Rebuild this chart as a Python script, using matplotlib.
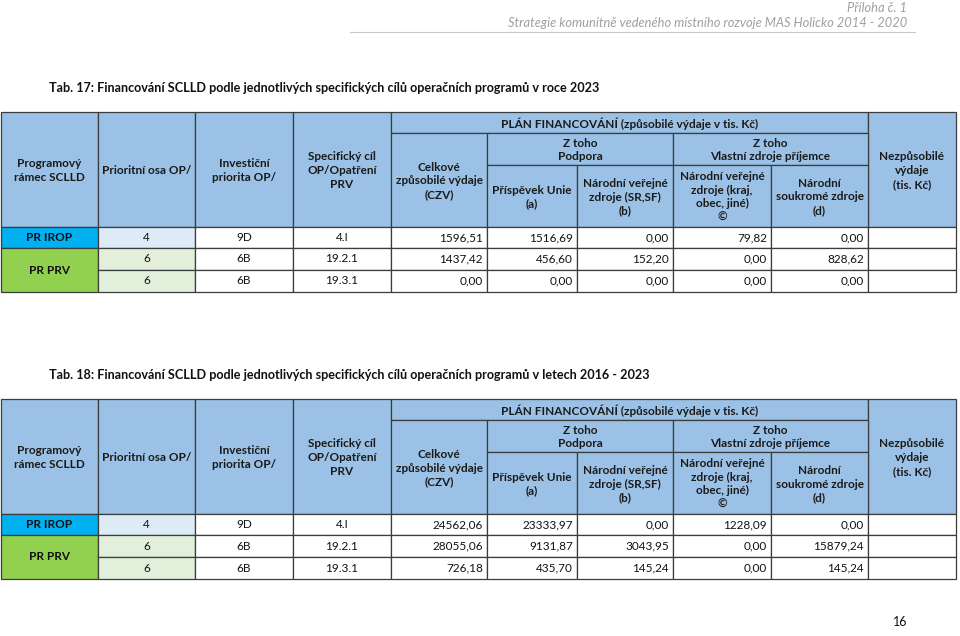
import matplotlib
matplotlib.use("Agg")
import matplotlib.pyplot as plt
from matplotlib.patches import Rectangle

plt.rcParams["font.family"] = ["Lato", "DejaVu Sans"]

# --- data -------------------------------------------------------------------
page_header = ["Příloha č. 1",
               "Strategie komunitně vedeného místního rozvoje MAS Holicko 2014 - 2020"]
table_titles = [
    "Tab. 17: Financování SCLLD podle jednotlivých specifických cílů operačních programů v roce 2023",
    "Tab. 18: Financování SCLLD podle jednotlivých specifických cílů operačních programů v letech 2016 - 2023",
]
page_number = "16"

programs = ["PR IROP", "PR PRV"]
program_rows = [1, 2]          # how many data rows each programme covers
osa = ["4", "6", "6"]
priorita = ["9D", "6B", "6B"]
cil = ["4.I", "19.2.1", "19.3.1"]

# rok 2023 (tis. Kč)
czv_2023 = [1596.51, 1437.42, 0.00]
unie_2023 = [1516.69, 456.60, 0.00]
narodni_sr_2023 = [0.00, 152.20, 0.00]
narodni_kraj_2023 = [79.82, 0.00, 0.00]
soukrome_2023 = [0.00, 828.62, 0.00]

# 2016 - 2023 (tis. Kč)
czv_1623 = [24562.06, 28055.06, 726.18]
unie_1623 = [23333.97, 9131.87, 435.70]
narodni_sr_1623 = [0.00, 3043.95, 145.24]
narodni_kraj_1623 = [1228.09, 0.00, 0.00]
soukrome_1623 = [0.00, 15879.24, 145.24]

header_cells = [
    # (col from, col to, header row from, header row to, text)
    (0, 1, 0, 3, "Programový\nrámec SCLLD"),
    (1, 2, 0, 3, "Prioritní osa OP/"),
    (2, 3, 0, 3, "Investiční\npriorita OP/"),
    (3, 4, 0, 3, "Specifický cíl\nOP/Opatření\nPRV"),
    (4, 9, 0, 1, "PLÁN FINANCOVÁNÍ (způsobilé výdaje v tis. Kč)"),
    (9, 10, 0, 3, "Nezpůsobilé\nvýdaje\n(tis. Kč)"),
    (4, 5, 1, 3, "Celkové\nzpůsobilé výdaje\n(CZV)"),
    (5, 7, 1, 2, "Z toho\nPodpora"),
    (7, 9, 1, 2, "Z toho\nVlastní zdroje příjemce"),
    (5, 6, 2, 3, "Příspěvek Unie\n(a)"),
    (6, 7, 2, 3, "Národní veřejné\nzdroje (SR,SF)\n(b)"),
    (7, 8, 2, 3, "Národní veřejné\nzdroje (kraj,\nobec, jiné)\n©"),
    (8, 9, 2, 3, "Národní\nsoukromé zdroje\n(d)"),
]

# --- layout (pixels) ----------------------------------------------------------
COL_X = [1, 98, 195, 293, 391, 487, 577, 673, 771, 868, 956]
HEAD_Y = [0, 21, 53, 115]
ROW_Y = [115, 136, 158, 180]
TABLE_TOPS = [112, 399]
TITLE_Y = [88, 375]

HEAD_BLUE = "#9BC2E6"
IROP_BLUE = "#00B0F0"
PRV_GREEN = "#92D050"
LIGHT_BLUE = "#DDEBF7"
LIGHT_GREEN = "#E2EFDA"
EDGE = "#3c3c3c"
FS = 8.5


def fmt(v):
    return f"{v:.2f}".replace(".", ",")


def cell(ax, x0, x1, y0, y1, face):
    ax.add_patch(Rectangle((x0, y0), x1 - x0, y1 - y0, facecolor=face,
                           edgecolor=EDGE, linewidth=0.9))


def draw_table(ax, top, values):
    for c0, c1, r0, r1, txt in header_cells:
        x0, x1 = COL_X[c0], COL_X[c1]
        y0, y1 = top + HEAD_Y[r0], top + HEAD_Y[r1]
        cell(ax, x0, x1, y0, y1, HEAD_BLUE)
        ax.text((x0 + x1) / 2, (y0 + y1) / 2 + 1, txt, ha="center", va="center",
                fontsize=FS, fontweight="bold", color="#1a1a1a", linespacing=1.3)

    # programme column (merged cells)
    r = 0
    for prog, n in zip(programs, program_rows):
        y0, y1 = top + ROW_Y[r], top + ROW_Y[r + n]
        face = IROP_BLUE if prog == "PR IROP" else PRV_GREEN
        cell(ax, COL_X[0], COL_X[1], y0, y1, face)
        ax.text((COL_X[0] + COL_X[1]) / 2, (y0 + y1) / 2, prog, ha="center",
                va="center", fontsize=FS, fontweight="bold", color="#111111")
        for i in range(r, r + n):
            ya, yb = top + ROW_Y[i], top + ROW_Y[i + 1]
            light = LIGHT_BLUE if prog == "PR IROP" else LIGHT_GREEN
            cell(ax, COL_X[1], COL_X[2], ya, yb, light)
            for c in range(2, 10):
                cell(ax, COL_X[c], COL_X[c + 1], ya, yb, "white")
        r += n

    for i in range(len(osa)):
        yc = top + (ROW_Y[i] + ROW_Y[i + 1]) / 2
        for c, txt in enumerate([osa[i], priorita[i], cil[i]], start=1):
            ax.text((COL_X[c] + COL_X[c + 1]) / 2, yc, txt, ha="center",
                    va="center", fontsize=FS, color="#111111")
        for c, series in enumerate(values, start=4):
            ax.text(COL_X[c + 1] - 4, yc, fmt(series[i]), ha="right",
                    va="center", fontsize=FS, color="#111111")


fig = plt.figure(figsize=(9.6, 6.36), dpi=100)
ax = fig.add_axes([0, 0, 1, 1])
ax.set_xlim(0, 960)
ax.set_ylim(636, 0)
ax.axis("off")

# page header
ax.text(907, 8, page_header[0], ha="right", va="center", fontsize=9.3,
        style="italic", color="#a0a0a0")
ax.text(907, 23, page_header[1], ha="right", va="center", fontsize=9.3,
        style="italic", color="#a0a0a0")
ax.plot([350, 915], [32, 32], color="#c8c8c8", linewidth=0.8)

tables = [
    [czv_2023, unie_2023, narodni_sr_2023, narodni_kraj_2023, soukrome_2023],
    [czv_1623, unie_1623, narodni_sr_1623, narodni_kraj_1623, soukrome_1623],
]
for title, ty, top, vals in zip(table_titles, TITLE_Y, TABLE_TOPS, tables):
    ax.text(49, ty, title, ha="left", va="center", fontsize=9.1,
            fontweight="bold", color="#111111")
    draw_table(ax, top, vals)

ax.text(900, 622, page_number, ha="center", va="center", fontsize=9,
        color="#111111")

fig.savefig("out.png", dpi=100)
